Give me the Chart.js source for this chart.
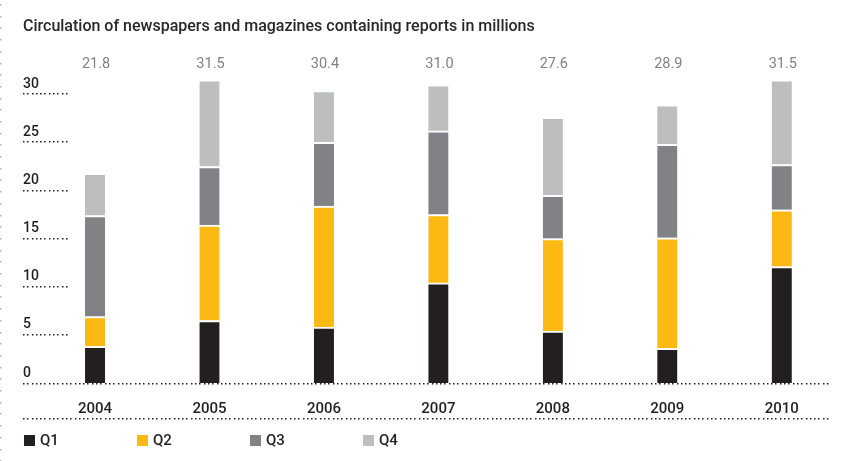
<!DOCTYPE html>
<html>
<head>
<meta charset="utf-8">
<script src="https://cdn.jsdelivr.net/npm/chart.js@4.4.1/dist/chart.umd.min.js"></script>
<style>
  html, body { margin: 0; padding: 0; background: #fff; }
</style>
</head>
<body>
<canvas id="chart" width="851" height="461"></canvas>
<script>
const years = ['2004', '2005', '2006', '2007', '2008', '2009', '2010'];
const q1 = [3.8, 6.5, 5.8, 10.4, 5.4, 3.6, 12.1];
const q2 = [3.1, 9.9, 12.6, 7.1, 9.6, 11.5, 5.9];
const q3 = [10.5, 6.1, 6.6, 8.7, 4.5, 9.7, 4.7];
const q4 = [4.4, 9.0, 5.4, 4.8, 8.1, 4.1, 8.8];
const totals = ['21.8', '31.5', '30.4', '31.0', '27.6', '28.9', '31.5'];
const yTicks = [0, 5, 10, 15, 20, 25, 30];
const seriesNames = ['Q1', 'Q2', 'Q3', 'Q4'];
const titleText = 'Circulation of newspapers and magazines containing reports in millions';

const colors = ['#231f20', '#fdb913', '#808285', '#bcbec0'];
const FONT = 'Roboto, "DejaVu Sans", sans-serif';

function dotsH(ctx, x1, x2, y, color) {
    ctx.fillStyle = color;
    for (let x = x1; x <= x2; x += 4.3) {
        ctx.fillRect(Math.round(x), Math.round(y) - 1, 1.5, 1.5);
    }
}

// draws the title, totals, y ticks, dotted rules and legend
const decorations = {
    id: 'decorations',
    afterDraw(chart) {
        const ctx = chart.ctx;
        const y = chart.scales.y;
        ctx.save();

        // left border dots
        ctx.fillStyle = '#b0b0b0';
        for (let py = 4; py < 461; py += 11.7) {
            ctx.fillRect(0, Math.round(py), 1.5, 1.5);
        }

        ctx.font = '500 16px ' + FONT;
        ctx.fillStyle = '#2a2627';
        ctx.textBaseline = 'middle';
        ctx.textAlign = 'left';
        ctx.fillText(titleText, 23, 27);

        // y ticks
        ctx.font = '500 14px ' + FONT;
        yTicks.forEach(function(t) {
            const py = y.getPixelForValue(t);
            ctx.fillStyle = '#231f20';
            ctx.fillText(String(t), 23, py - 10);
            if (t !== 0) dotsH(ctx, 23, 66, py, '#231f20');
        });
        dotsH(ctx, 23, 830, y.getPixelForValue(0) + 0.5, '#231f20');
        dotsH(ctx, 23, 830, 418.5, '#231f20');

        // totals above bars
        const meta = chart.getDatasetMeta(3);
        ctx.font = '14.5px ' + FONT;
        ctx.fillStyle = '#808285';
        ctx.textAlign = 'center';
        meta.data.forEach(function(bar, i) {
            ctx.fillText(totals[i], bar.x + 1, 64.5);
        });

        // legend
        ctx.font = '500 15px ' + FONT;
        ctx.textAlign = 'left';
        seriesNames.forEach(function(name, i) {
            const lx = 24 + i * 113;
            ctx.fillStyle = colors[i];
            ctx.fillRect(lx, 435, 11, 11);
            ctx.fillStyle = '#231f20';
            ctx.fillText(name, lx + 16, 441);
        });

        ctx.restore();
    }
};

const seriesData = [q1, q2, q3, q4];

new Chart(document.getElementById('chart'), {
    type: 'bar',
    data: {
        labels: years,
        datasets: seriesNames.map(function(name, i) {
            return {
                label: name,
                data: seriesData[i],
                backgroundColor: colors[i],
                borderColor: '#ffffff',
                borderWidth: { top: 2, left: 0, right: 0, bottom: 0 },
                borderSkipped: false,
                barThickness: 20
            };
        })
    },
    options: {
        responsive: false,
        animation: false,
        layout: { padding: { left: 37.8, right: 12, top: 75.1, bottom: 0 } },
        plugins: {
            legend: { display: false },
            tooltip: { enabled: false },
            title: { display: false }
        },
        scales: {
            x: {
                stacked: true,
                grid: { display: false },
                border: { display: false },
                ticks: {
                    color: '#231f20',
                    font: { family: FONT, size: 15, weight: '500' },
                    padding: 9.7
                },
                afterFit: function(scale) { scale.height = 78; }
            },
            y: {
                stacked: true,
                display: false,
                min: 0,
                max: 32
            }
        }
    },
    plugins: [decorations]
});
</script>
</body>
</html>
